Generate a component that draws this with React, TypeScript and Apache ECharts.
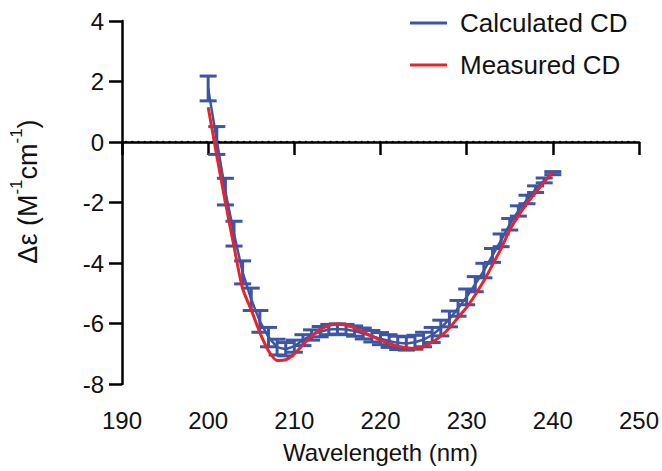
import React, { useEffect, useRef } from "react";
import * as echarts from "echarts";

const wavelengths = [
  200, 201, 202, 203, 204, 205, 206, 207, 208, 209, 210, 211, 212, 213, 214, 215, 216, 217, 218, 219, 220,
  221, 222, 223, 224, 225, 226, 227, 228, 229, 230, 231, 232, 233, 234, 235, 236, 237, 238, 239, 240,
];

const calculatedCD = [
  1.77, 0.05, -1.64, -3.03, -4.31, -5.2, -5.93, -6.45, -6.78, -6.85, -6.75, -6.55, -6.38, -6.27, -6.2, -6.18,
  -6.2, -6.25, -6.33, -6.42, -6.5, -6.58, -6.64, -6.66, -6.62, -6.53, -6.38, -6.15, -5.85, -5.5, -5.12, -4.7,
  -4.25, -3.75, -3.25, -2.72, -2.28, -1.9, -1.56, -1.27, -1.03,
];

const calculatedErr = [
  0.41, 0.46, 0.44, 0.41, 0.38, 0.37, 0.36, 0.32, 0.26, 0.22, 0.2, 0.18, 0.17, 0.17, 0.17, 0.17, 0.17, 0.17,
  0.18, 0.19, 0.2, 0.21, 0.22, 0.22, 0.23, 0.24, 0.25, 0.26, 0.26, 0.26, 0.26, 0.25, 0.24, 0.23, 0.21, 0.19,
  0.17, 0.14, 0.11, 0.08, 0.05,
];

const measuredCD = [
  1.15, -0.45, -2.0, -3.45, -4.85, -5.55, -6.3, -6.9, -7.22, -7.2, -7.0, -6.7, -6.42, -6.2, -6.07, -6.02,
  -6.05, -6.15, -6.28, -6.42, -6.55, -6.66, -6.75, -6.8, -6.82, -6.76, -6.62, -6.42, -6.15, -5.8, -5.47,
  -5.05, -4.59, -4.06, -3.52, -2.91, -2.44, -2.03, -1.67, -1.32, -1.0,
];

const xTicks = { min: 190, max: 250, interval: 10 };
const yTicks = { min: -8, max: 4, interval: 2 };

const BLUE = "#3d55a5";
const RED = "#e8232b";
const FONT = "Liberation Sans, Arial, Helvetica, sans-serif";

export default function App() {
  const ref = useRef<HTMLDivElement>(null);

  useEffect(() => {
    if (!ref.current) return;
    const chart = echarts.init(ref.current, undefined, { renderer: "svg" });

    const calcLine = wavelengths.map((w, i) => [w, calculatedCD[i]]);
    const measLine = wavelengths.map((w, i) => [w, measuredCD[i]]);
    const errData = wavelengths.map((w, i) => [
      w,
      calculatedCD[i] - calculatedErr[i],
      calculatedCD[i] + calculatedErr[i],
    ]);

    const axisLineStyle = { color: "#000", width: 2.5 };

    chart.setOption({
      animation: false,
      textStyle: { fontFamily: FONT },
      grid: { left: 122, top: 21, width: 517, height: 363, containLabel: false },
      legend: {
        orient: "vertical",
        left: 405,
        top: 5,
        itemWidth: 37,
        itemHeight: 3,
        itemGap: 16,
        icon: "rect",
        textStyle: { fontSize: 26, color: "#111", fontFamily: FONT, padding: [0, 0, 0, 8] },
        data: [
          { name: "Calculated CD", itemStyle: { color: BLUE } },
          { name: "Measured CD", itemStyle: { color: RED } },
        ],
      },
      xAxis: {
        type: "value",
        min: xTicks.min,
        max: xTicks.max,
        interval: xTicks.interval,
        name: "Wavelengeth (nm)",
        nameLocation: "middle",
        nameGap: 56,
        nameTextStyle: { fontSize: 24, color: "#111", fontFamily: FONT },
        axisLine: { lineStyle: axisLineStyle },
        axisTick: { length: 13, lineStyle: axisLineStyle },
        axisLabel: { fontSize: 24, color: "#111", margin: 24, fontFamily: FONT },
        splitLine: { show: false },
      },
      yAxis: {
        type: "value",
        min: yTicks.min,
        max: yTicks.max,
        interval: yTicks.interval,
        name: "{a|Δε (M}{s|-1}{a|cm}{s|-1}{a|)}",
        nameLocation: "middle",
        nameRotate: 90,
        nameGap: 81,
        nameTextStyle: {
          color: "#111",
          padding: [0, 0, 0, 22],
          rich: {
            a: { fontSize: 27, color: "#111", fontFamily: FONT, lineHeight: 33, verticalAlign: "bottom" },
            s: { fontSize: 17, color: "#111", fontFamily: FONT, lineHeight: 33, verticalAlign: "top", padding: [0, 0, 12, 0] },
          },
        },
        axisLine: { show: true, lineStyle: axisLineStyle },
        axisTick: { show: true, length: 13, lineStyle: axisLineStyle },
        axisLabel: { fontSize: 24, color: "#111", margin: 18, fontFamily: FONT },
        splitLine: { show: false },
      },
      series: [
        {
          name: "Calculated CD",
          type: "line",
          data: calcLine,
          symbol: "none",
          lineStyle: { color: BLUE, width: 2.5 },
          itemStyle: { color: BLUE },
          z: 2,
        },
        {
          name: "errorbars",
          type: "custom",
          data: errData,
          encode: { x: 0, y: [1, 2] },
          z: 3,
          renderItem: (params: any, api: any) => {
            const x = api.value(0);
            const lo = api.coord([x, api.value(1)]);
            const hi = api.coord([x, api.value(2)]);
            const hw = 8.5;
            const style = { stroke: BLUE, lineWidth: 3 };
            return {
              type: "group",
              children: [
                { type: "line", shape: { x1: lo[0], y1: lo[1], x2: hi[0], y2: hi[1] }, style },
                { type: "line", shape: { x1: lo[0] - hw, y1: lo[1], x2: lo[0] + hw, y2: lo[1] }, style },
                { type: "line", shape: { x1: hi[0] - hw, y1: hi[1], x2: hi[0] + hw, y2: hi[1] }, style },
              ],
            };
          },
        },
        {
          name: "Measured CD",
          type: "line",
          data: measLine,
          symbol: "none",
          smooth: 0.25,
          lineStyle: { color: RED, width: 3 },
          itemStyle: { color: RED },
          z: 5,
          markLine: {
            silent: true,
            symbol: "none",
            label: { show: false },
            lineStyle: { color: "#000", width: 2.3, type: [0.1, 6.1], cap: "round", dashOffset: -4 },
            data: [{ yAxis: 0 }],
          },
        },
      ],
    });

    return () => chart.dispose();
  }, []);

  return (
    <div
      ref={ref}
      style={{ position: "fixed", left: 0, top: 0, width: 662, height: 471, background: "#fff" }}
    />
  );
}
